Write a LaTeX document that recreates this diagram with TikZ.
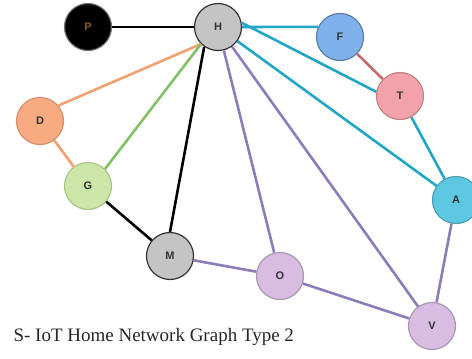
\documentclass[tikz,border=0pt]{standalone}
\usepackage{fontspec}
\setmainfont{Liberation Serif}
\newfontfamily\labelfont{Liberation Sans}
\usepackage{xcolor}
\definecolor{edgecyan}{HTML}{22A6C6}
\definecolor{edgepurple}{HTML}{8C7DBA}
\definecolor{edgeorange}{HTML}{F2A072}
\definecolor{edgegreen}{HTML}{84C064}
\definecolor{edgered}{HTML}{C46A6A}
\definecolor{devgrey}{HTML}{C4C4C4}
\definecolor{devblue}{HTML}{7FB2EA}
\definecolor{devpink}{HTML}{F2A2A8}
\definecolor{devorange}{HTML}{F8AA80}
\definecolor{devgreen}{HTML}{CBE6A6}
\definecolor{devcyan}{HTML}{5EC8E2}
\definecolor{devlilac}{HTML}{D8BCE2}
\tikzset{%
	every device/.style={
		circle,
		draw,
		line width=1.2pt,
		minimum size=47pt,
		inner sep=0pt,
		font=\labelfont\bfseries\fontsize{11}{11}\selectfont,
		text=black!80
	},
	link/.style={line width=2.6pt}
}

\begin{document}
\begin{tikzpicture}[x=1pt, y=-1pt]
		\useasboundingbox (0,0) rectangle (472,359);
		
		% Draw the devices
		\node[every device, fill=black, draw=black!55, text=brown!70!black] (P) at (88,27) {P};
		\node[every device, fill=devgrey, draw=black!80] (H) at (218,27) {H};
		\node[every device, fill=devblue, draw=devblue!70!black] (F) at (340,37) {F};
		\node[every device, fill=devpink, draw=devpink!80!black] (T) at (400,96) {T};
		\node[every device, fill=devorange, draw=devorange!85!black] (D) at (40,121) {D};
		\node[every device, fill=devgreen, draw=devgreen!85!black] (G) at (88,186) {G};
		\node[every device, fill=devcyan, draw=devcyan!80!black] (A) at (456,200) {A};
		\node[every device, fill=devgrey, draw=black!80] (M) at (170,256) {M};
		\node[every device, fill=devlilac, draw=devlilac!80!black] (O) at (280,276) {O};
		\node[every device, fill=devlilac, draw=devlilac!80!black] (V) at (432,326) {V};
		
		% Draw the links
		\draw[link, black] (P) -- (H);
		\draw[link, black] (H.235) -- (M.north);
		\draw[link, black] (G) -- (M);
		\draw[link, edgecyan] (H.east) -- (F.155);
		\draw[link, edgecyan] (H.10) -- (T.170);
		\draw[link, edgecyan] (H) -- (A);
		\draw[link, edgecyan] (T) -- (A);
		\draw[link, edgered] (F) -- (T);
		\draw[link, edgeorange] (H.225) -- (D.40);
		\draw[link, edgeorange] (D) -- (G);
		\draw[link, edgegreen] (H.225) -- (G.45);
		\draw[link, edgepurple] (H) -- (O);
		\draw[link, edgepurple] (H) -- (V);
		\draw[link, edgepurple] (M) -- (O);
		\draw[link, edgepurple] (O) -- (V);
		\draw[link, edgepurple] (A) -- (V);
		
		% Draw the caption
		\node[anchor=west, font=\fontsize{19}{19}\selectfont, text=black!85] (caption) at (10,337) {S- IoT Home Network Graph Type 2};
	\end{tikzpicture}
\end{document}
